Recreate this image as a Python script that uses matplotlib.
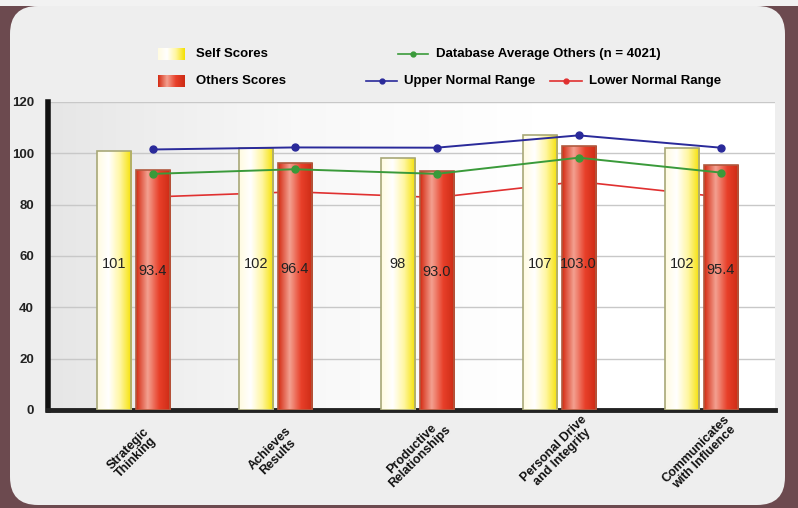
import numpy as np
import matplotlib.pyplot as plt
from matplotlib.patches import FancyBboxPatch, Rectangle
from matplotlib.lines import Line2D
from matplotlib.colors import LinearSegmentedColormap

categories = ["Strategic\nThinking", "Achieves\nResults", "Productive\nRelationships",
              "Personal Drive\nand Integrity", "Communicates\nwith Influence"]
self_scores = [101, 102, 98, 107, 102]
others_scores = [93.4, 96.4, 93.0, 103.0, 95.4]
db_average = [92.0, 93.8, 92.0, 98.3, 92.5]
upper_range = [101.5, 102.3, 102.2, 107.0, 102.2]
lower_range = [83.0, 85.0, 82.8, 89.0, 83.0]
self_labels = ["101", "102", "98", "107", "102"]
others_labels = ["93.4", "96.4", "93.0", "103.0", "95.4"]
yticks = [0, 20, 40, 60, 80, 100, 120]

plt.rcParams['font.family'] = ['Liberation Sans', 'DejaVu Sans']

fig = plt.figure(figsize=(7.98, 5.08), dpi=100)
fig.patch.set_facecolor('#6c4a4f')
W, H = 798, 508
# top light strip
fig.patches.append(Rectangle((0, 1 - 6 / H), 1, 6 / H, transform=fig.transFigure,
                             facecolor='#f2f2f2', edgecolor='none', zorder=-20))
panel = FancyBboxPatch((10 / W, 3 / H), 775 / W, 499 / H,
                       boxstyle="round,pad=0,rounding_size=0.035",
                       transform=fig.transFigure, facecolor='#eeeeee',
                       edgecolor='none', zorder=-20, mutation_aspect=W / H)
fig.patches.append(panel)

ax = fig.add_axes([48 / W, 1 - 410 / H, (775 - 48) / W, (410 - 102) / H])
ax.set_facecolor('none')
x = np.arange(len(categories))
bw = 0.24
off = 0.137

# background gradient inside axes
bg = np.linspace(0, 1, 256).reshape(1, -1)
bgcmap = LinearSegmentedColormap.from_list('bg', ['#e6e6e6', '#f8f8f8', '#ffffff', '#ffffff'])
ax.imshow(bg, extent=[-0.6, 4.52, 0, 120], aspect='auto', cmap=bgcmap, zorder=0)

for yv in yticks[1:]:
    ax.axhline(yv, color='#c8c8c8', lw=1.0, zorder=1)

ycmap = LinearSegmentedColormap.from_list('y', ['#fffbe0', '#ffffff', '#fff6a0', '#f4e000'])
rcmap = LinearSegmentedColormap.from_list('r', ['#d42a12', '#f3a090', '#e8402a', '#cc2a14'])
grad = np.linspace(0, 1, 128).reshape(1, -1)

def gbar(xc, h, cmap, edge):
    b = ax.bar(xc, h, bw, color='none', edgecolor=edge, lw=1.2, zorder=4)[0]
    im = ax.imshow(grad, extent=[xc - bw / 2, xc + bw / 2, 0, h], aspect='auto',
                   cmap=cmap, zorder=3)
    im.set_clip_path(b)

for i in range(len(x)):
    gbar(x[i] - off, self_scores[i], ycmap, '#a8a878')
    gbar(x[i] + off, others_scores[i], rcmap, '#b05a40')

xl = x + off
ax.plot(xl, lower_range, color='#e03030', lw=1.2, marker='o', ms=4, zorder=2)
ax.plot(xl, upper_range, color='#2a2a9a', lw=1.4, marker='o', ms=5, zorder=5)
ax.plot(xl, db_average, color='#3a9a3a', lw=1.4, marker='o', ms=5, zorder=5)

# value labels
for i in range(len(x)):
    ax.text(x[i] - off, 57, self_labels[i],
            ha='center', va='center', fontsize=10.5, color='#222222', zorder=6)
    ax.text(x[i] + off, 54 + (others_scores[i] - 93.4) * 0.3, others_labels[i],
            ha='center', va='center', fontsize=10.5, color='#222222', zorder=6)

ax.set_xlim(-0.6, 4.52)
ax.set_ylim(0, 120)
ax.set_yticks(yticks)
ax.set_yticklabels([str(v) for v in yticks], fontsize=9.5, fontweight='bold', color='#222222')
ax.set_xticks(x)
ax.set_xticklabels([])
for i, cat in enumerate(categories):
    ax.annotate(cat, (x[i], 0), xycoords=('data', 'axes fraction'),
                xytext=(-1, -43), textcoords='offset pixels', rotation=45,
                ha='center', va='center', rotation_mode='anchor',
                fontsize=9, fontweight='bold', color='#111111', linespacing=0.95,
                annotation_clip=False)
ax.tick_params(axis='x', length=0)
ax.tick_params(axis='y', length=0, pad=10)
for s in ['top', 'right']:
    ax.spines[s].set_visible(False)
ax.spines['left'].set_linewidth(4)
ax.spines['left'].set_color('#111111')
ax.spines['bottom'].set_linewidth(3.5)
ax.spines['bottom'].set_color('#222222')

# legend (manual)
def lpatch(xp, yp, cmap):
    a = fig.add_axes([xp / W, 1 - (yp + 6) / H, 27 / W, 12 / H])
    a.imshow(grad, aspect='auto', cmap=cmap, extent=[0, 1, 0, 1])
    a.set_axis_off()

lpatch(158, 54, ycmap)
lpatch(158, 81, rcmap)
fig.text(196 / W, 1 - 54 / H, "Self Scores", fontsize=9.5, fontweight='bold', va='center')
fig.text(196 / W, 1 - 81 / H, "Others Scores", fontsize=9.5, fontweight='bold', va='center')

def lline(x0, x1, yp, color):
    fig.lines.append(Line2D([x0 / W, x1 / W], [1 - yp / H] * 2, transform=fig.transFigure,
                            color=color, lw=1.2))
    fig.lines.append(Line2D([(x0 + x1) / 2 / W], [1 - yp / H], transform=fig.transFigure,
                            color=color, marker='o', ms=3.5))

lline(398, 428, 54, '#3a9a3a')
fig.text(436 / W, 1 - 54 / H, "Database Average Others (n = 4021)", fontsize=9.5,
         fontweight='bold', va='center')
lline(366, 397, 81, '#2a2a9a')
fig.text(404 / W, 1 - 81 / H, "Upper Normal Range", fontsize=9.5, fontweight='bold', va='center')
lline(550, 582, 81, '#e03030')
fig.text(589 / W, 1 - 81 / H, "Lower Normal Range", fontsize=9.5, fontweight='bold', va='center')

fig.savefig('out.png', dpi=100, facecolor=fig.get_facecolor())
